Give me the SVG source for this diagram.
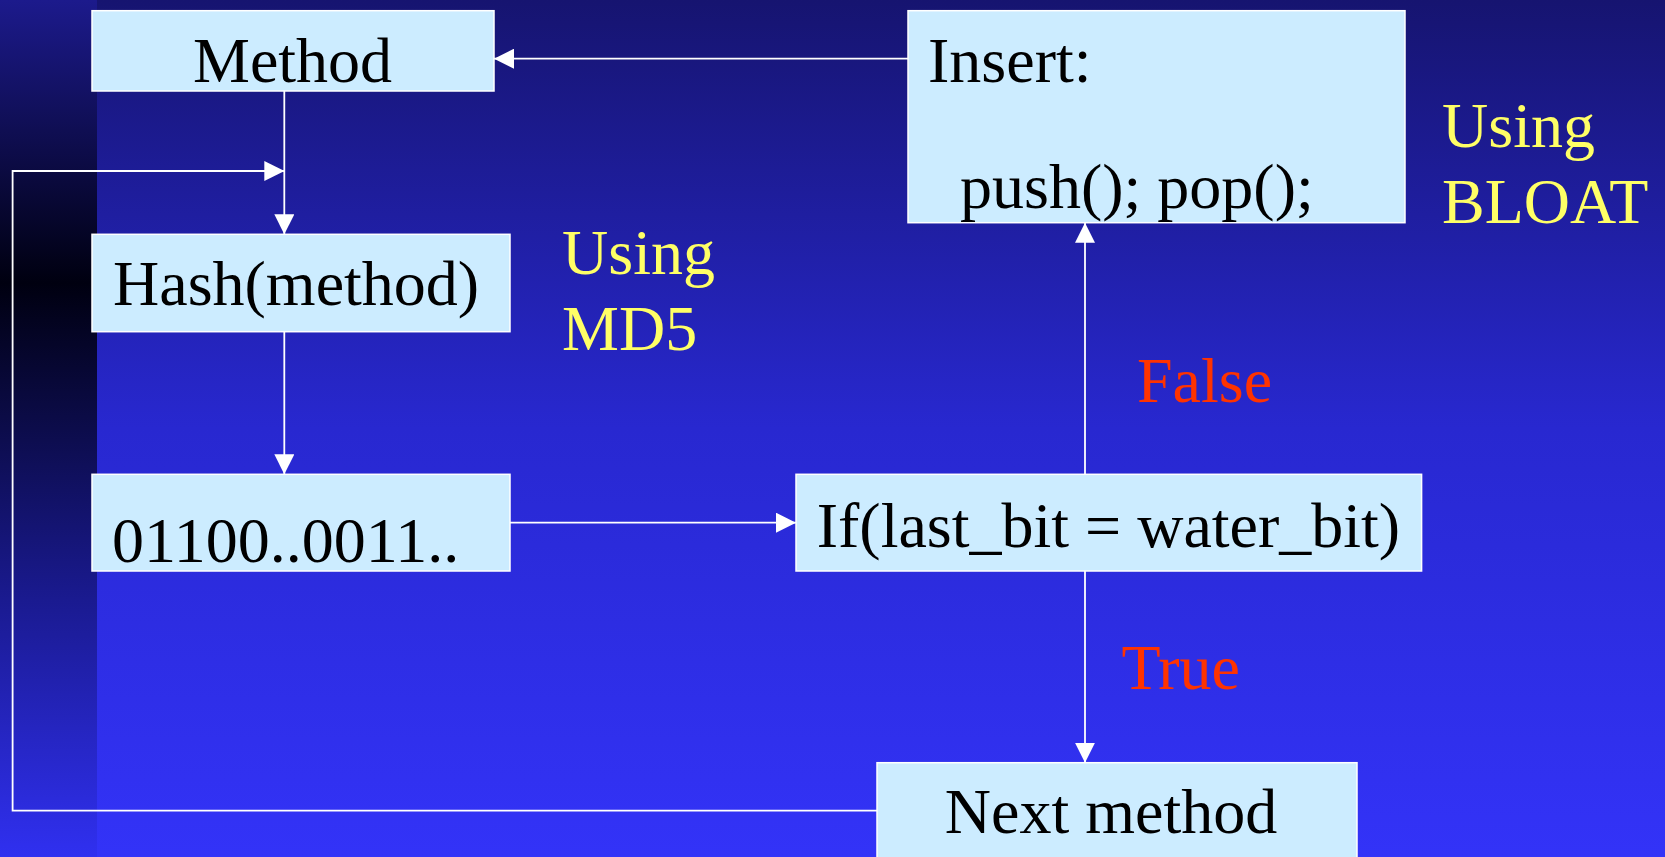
<svg xmlns="http://www.w3.org/2000/svg" width="1665" height="857" viewBox="0 0 1665 857">
<defs>
<linearGradient id="bg" x1="0" y1="0" x2="0" y2="1">
<stop offset="0" stop-color="#161470"/>
<stop offset="0.5" stop-color="#2828d0"/>
<stop offset="1" stop-color="#3333f8"/>
</linearGradient>
<linearGradient id="strip" x1="0" y1="0" x2="0" y2="857" gradientUnits="userSpaceOnUse">
<stop offset="0" stop-color="#1c1a8c"/>
<stop offset="0.33" stop-color="#000010"/>
<stop offset="0.7" stop-color="#1a1a90"/>
<stop offset="1" stop-color="#3030f0"/>
</linearGradient>
<marker id="ah" markerUnits="userSpaceOnUse" markerWidth="20" markerHeight="20" viewBox="0 0 20 20" refX="20" refY="10" orient="auto">
<path d="M0,0 L20,10 L0,20 z" fill="#ffffff"/>
</marker>
</defs>
<style>
.box{fill:#ccecff;stroke:#ffffff;stroke-width:1.5}
.t{font-family:"Liberation Serif","Times New Roman",serif;font-size:64px;fill:#000000}
.y{font-family:"Liberation Serif","Times New Roman",serif;font-size:64px;fill:#ffff66}
.r{font-family:"Liberation Serif","Times New Roman",serif;font-size:64px;fill:#ff3300}
.c{fill:none;stroke:#ffffff;stroke-width:1.8}
</style>
<rect x="0" y="0" width="1665" height="857" fill="url(#bg)"/>
<rect x="0" y="0" width="97" height="857" fill="url(#strip)"/>
<g id="connectors">
<line class="c" x1="908" y1="58.7" x2="494" y2="58.7" marker-end="url(#ah)"/>
<line class="c" x1="284.3" y1="91" x2="284.3" y2="234.3" marker-end="url(#ah)"/>
<polyline class="c" points="877,810.7 12.6,810.7 12.6,171 284.3,171" marker-end="url(#ah)"/>
<line class="c" x1="284.3" y1="331.7" x2="284.3" y2="474.3" marker-end="url(#ah)"/>
<line class="c" x1="510" y1="522.7" x2="796" y2="522.7" marker-end="url(#ah)"/>
<line class="c" x1="1085" y1="474.3" x2="1085" y2="222.7" marker-end="url(#ah)"/>
<line class="c" x1="1085" y1="571" x2="1085" y2="762.7" marker-end="url(#ah)"/>
</g>
<g id="method">
<rect class="box" x="92" y="10.7" width="402" height="80.3"/>
<text class="t" x="193" y="81.7">Method</text>
</g>
<g id="insert">
<rect class="box" x="908" y="10.7" width="497" height="212"/>
<text class="t" x="928" y="81.7">Insert:</text>
<text class="t" x="960" y="208">push(); pop();</text>
</g>
<g id="using-bloat">
<text class="y" x="1442" y="147">Using</text>
<text class="y" x="1442" y="222.5">BLOAT</text>
</g>
<g id="hash">
<rect class="box" x="92" y="234.3" width="418" height="97.4"/>
<text class="t" x="113" y="305">Hash(method)</text>
</g>
<g id="using-md5">
<text class="y" x="562" y="274">Using</text>
<text class="y" x="562" y="350">MD5</text>
</g>
<g id="false-label">
<text class="r" x="1137" y="401.7">False</text>
</g>
<g id="bits">
<rect class="box" x="92" y="474.3" width="418" height="96.7"/>
<text class="t" x="112" y="562.3">01100..0011..</text>
</g>
<g id="if">
<rect class="box" x="796" y="474.3" width="625.6" height="96.7"/>
<text class="t" x="816.7" y="546.7">If(last_bit = water_bit)</text>
</g>
<g id="true-label">
<text class="r" x="1121.4" y="689.3">True</text>
</g>
<g id="next">
<rect class="box" x="877" y="762.7" width="480" height="110"/>
<text class="t" x="944.8" y="833.3">Next method</text>
</g>
</svg>
